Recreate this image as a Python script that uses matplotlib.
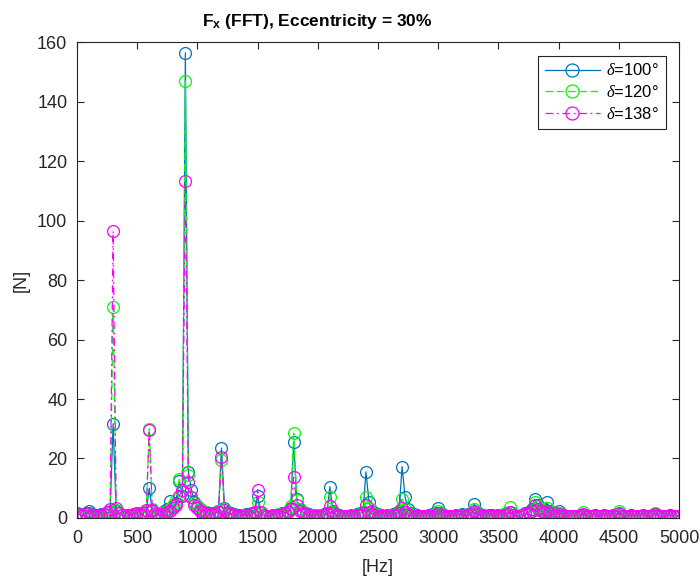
import numpy as np
import matplotlib
matplotlib.use("Agg")
import matplotlib.pyplot as plt

plt.rcParams['font.family'] = ['Liberation Sans', 'DejaVu Sans']
plt.rcParams['mathtext.fontset'] = 'custom'
plt.rcParams['mathtext.rm'] = 'Liberation Sans'
plt.rcParams['mathtext.bf'] = 'Liberation Sans:bold'
plt.rcParams['mathtext.it'] = 'Liberation Serif:italic'

# Frequency bins (Hz), 25 Hz resolution
freq_step = 25
n_bins = 201

# Single-sided FFT magnitude of Fx [N], delta = 100 deg
fx_100 = [
    1.8, 1.2, 1.0, 1.5, 2.5, 1.3, 0.9, 1.0, 1.2, 1.4, 1.6, 2.0, 31.7, 2.2, 1.5, 1.0, 0.8, 0.9, 1.1, 1.3,
    1.5, 1.2, 1.6, 2.2, 10.0, 2.4, 1.5, 1.3, 1.8, 2.2, 3.0, 5.8, 4.0, 5.0, 12.5, 7.5, 156.5, 15.5, 9.5, 5.5,
    4.0, 3.0, 2.5, 2.0, 1.7, 1.5, 1.8, 2.5, 23.5, 3.5, 2.0, 1.5, 1.2, 1.0, 0.9, 1.1, 1.3, 1.0, 1.5, 2.0,
    7.5, 1.5, 0.8, 0.6, 0.7, 0.9, 1.0, 1.2, 1.5, 1.8, 2.2, 3.5, 25.5, 6.5, 3.0, 2.0, 1.5, 1.2, 1.0, 0.9,
    1.0, 0.8, 1.2, 1.5, 10.5, 2.5, 1.2, 0.9, 0.8, 0.7, 0.8, 0.9, 1.0, 1.2, 1.5, 2.0, 15.5, 5.5, 2.5, 1.5,
    1.2, 1.0, 0.8, 0.9, 1.0, 1.2, 1.5, 2.5, 17.3, 7.0, 3.0, 1.8, 1.3, 1.0, 0.8, 0.7, 0.8, 1.0, 1.2, 1.5,
    3.3, 1.5, 1.0, 0.8, 0.7, 0.8, 0.9, 1.0, 1.2, 1.0, 1.3, 1.8, 4.8, 2.0, 1.2, 0.9, 0.8, 0.9, 1.0, 0.8,
    0.9, 1.0, 1.2, 1.5, 2.0, 1.0, 0.6, 0.8, 1.0, 1.5, 2.0, 3.0, 6.3, 4.5, 3.5, 3.0, 5.3, 2.5, 1.5, 1.8,
    2.5, 1.2, 0.8, 0.7, 0.8, 0.6, 0.7, 0.9, 1.0, 0.8, 0.7, 0.8, 0.9, 0.7, 0.8, 0.9, 0.8, 0.7, 0.9, 1.0,
    1.3, 0.9, 0.7, 0.8, 0.9, 0.8, 0.7, 0.8, 0.9, 0.8, 0.7, 0.9, 1.2, 0.9, 0.8, 0.7, 0.8, 0.9, 0.8, 0.7, 0.8,
]

# delta = 120 deg
fx_120 = [
    1.5, 1.0, 0.8, 1.2, 1.5, 1.0, 0.7, 0.8, 1.0, 1.3, 1.8, 2.5, 71.0, 2.8, 1.5, 0.9, 0.7, 0.8, 1.0, 1.2,
    1.4, 1.2, 1.5, 2.5, 30.0, 3.0, 1.6, 1.2, 1.5, 2.0, 2.5, 3.0, 4.5, 6.0, 13.0, 9.0, 147.0, 14.5, 7.0, 5.0,
    4.0, 3.0, 2.5, 2.0, 1.6, 1.4, 1.6, 2.2, 19.5, 3.0, 1.8, 1.4, 1.0, 0.8, 0.7, 0.9, 1.0, 0.8, 1.2, 1.8,
    5.2, 1.5, 0.7, 0.5, 0.6, 0.8, 1.0, 1.2, 1.4, 1.8, 2.5, 4.0, 28.5, 6.0, 3.0, 2.0, 1.4, 1.1, 0.9, 0.8,
    0.9, 0.7, 1.0, 1.4, 7.0, 2.0, 1.0, 0.8, 0.6, 0.5, 0.6, 0.8, 0.9, 1.0, 1.3, 2.0, 7.0, 3.5, 1.8, 1.2,
    1.0, 0.8, 0.6, 0.7, 0.9, 1.0, 1.3, 2.0, 6.3, 3.0, 1.8, 1.2, 1.0, 0.8, 0.6, 0.5, 0.6, 0.8, 1.0, 1.3,
    2.2, 1.2, 0.8, 0.6, 0.5, 0.6, 0.7, 0.9, 1.0, 0.8, 1.1, 1.5, 3.0, 1.5, 1.0, 0.7, 0.6, 0.7, 0.8, 0.7,
    0.8, 0.9, 1.2, 1.8, 3.8, 1.5, 0.7, 0.8, 1.0, 1.3, 1.8, 2.5, 5.5, 4.0, 3.0, 2.5, 3.5, 2.0, 1.2, 1.3,
    1.8, 1.0, 0.7, 0.6, 0.7, 0.5, 0.6, 0.8, 2.0, 0.9, 0.6, 0.7, 0.8, 0.6, 0.7, 0.8, 0.7, 0.6, 0.8, 1.0,
    2.5, 1.0, 0.6, 0.7, 0.8, 0.7, 0.6, 0.7, 0.8, 0.7, 0.6, 0.8, 1.8, 0.8, 0.7, 0.6, 0.7, 0.8, 0.7, 0.6, 0.7,
]

# delta = 138 deg
fx_138 = [
    1.6, 1.1, 0.9, 1.3, 1.8, 1.1, 0.8, 0.9, 1.1, 1.4, 2.0, 3.0, 96.5, 3.2, 1.6, 1.0, 0.8, 0.9, 1.1, 1.3,
    1.5, 1.3, 1.6, 2.6, 29.5, 2.8, 1.4, 1.0, 1.2, 1.5, 2.0, 2.5, 3.5, 4.5, 7.5, 9.5, 113.5, 12.0, 7.0, 4.5,
    3.5, 2.5, 2.0, 1.7, 1.5, 1.3, 1.5, 2.0, 20.5, 2.8, 1.6, 1.2, 0.9, 0.8, 0.7, 0.8, 0.9, 0.8, 1.2, 2.0,
    9.5, 2.0, 1.0, 0.7, 0.8, 0.9, 1.0, 1.1, 1.3, 1.6, 2.0, 3.0, 13.7, 4.5, 2.5, 1.6, 1.2, 1.0, 0.8, 0.7,
    0.8, 0.7, 0.9, 1.2, 4.0, 1.5, 0.9, 0.7, 0.6, 0.5, 0.6, 0.7, 0.8, 0.9, 1.1, 1.5, 4.5, 2.0, 1.3, 1.0,
    0.8, 0.7, 0.6, 0.7, 0.8, 0.9, 1.1, 1.5, 3.5, 2.0, 1.4, 1.0, 0.8, 0.7, 0.6, 0.5, 0.6, 0.7, 0.8, 1.0,
    1.8, 1.0, 0.7, 0.6, 0.5, 0.6, 0.7, 0.8, 0.9, 0.7, 0.9, 1.2, 2.2, 1.2, 0.8, 0.6, 0.5, 0.6, 0.7, 0.6,
    0.7, 0.8, 1.0, 1.3, 2.0, 1.1, 0.6, 0.7, 0.9, 1.2, 1.6, 2.2, 4.4, 3.0, 2.5, 2.0, 2.5, 1.5, 1.0, 1.0,
    1.3, 0.8, 0.6, 0.5, 0.6, 0.5, 0.6, 0.7, 1.2, 0.7, 0.5, 0.6, 0.7, 0.5, 0.6, 0.7, 0.6, 0.5, 0.7, 0.8,
    1.5, 0.8, 0.5, 0.6, 0.7, 0.6, 0.5, 0.6, 0.7, 0.6, 0.5, 0.7, 1.2, 0.7, 0.6, 0.5, 0.6, 0.7, 0.6, 0.5, 0.6,
]

labels = [r'$\delta$=100°', r'$\delta$=120°', r'$\delta$=138°']
x_ticks = list(range(0, 5001, 500))
y_ticks = list(range(0, 161, 20))

freqs = np.arange(n_bins) * freq_step

fig = plt.figure(figsize=(7.0, 5.8), dpi=100)
ax = fig.add_axes([0.110, 0.107, 0.860, 0.820])

axis_color = '#262626'
ax.plot(freqs, fx_100, '-o', color='#0072BD', lw=0.9, ms=8.5,
        mfc='none', mew=0.9, label=labels[0])
ax.plot(freqs, fx_120, '--o', color='#00FF00', lw=0.9, ms=8.5,
        mfc='none', mew=0.9, label=labels[1], dashes=(6, 3))
ax.plot(freqs, fx_138, '-.o', color='#FF00FF', lw=0.9, ms=8.5,
        mfc='none', mew=0.9, label=labels[2], dashes=(6, 3, 1.5, 3))

ax.set_xlim(0, 5000)
ax.set_ylim(0, 160)
ax.set_xticks(x_ticks)
ax.set_yticks(y_ticks)

for s in ax.spines.values():
    s.set_color(axis_color)
    s.set_linewidth(0.8)
ax.tick_params(direction='in', length=5, width=0.8, colors=axis_color,
               labelsize=13, top=True, right=True)
ax.tick_params(axis='x', pad=9)
ax.tick_params(axis='y', pad=7)

fig.text(0.453, 0.963, r'$\mathbf{F_x}$ (FFT), Eccentricity = 30%', fontsize=12.5,
         fontweight='bold', color='black', ha='center', va='center')
ax.set_xlabel('[Hz]', fontsize=13, color=axis_color, labelpad=8.5)
ax.set_ylabel('[N]', fontsize=13, color=axis_color, labelpad=5)

leg = ax.legend(loc='upper right', fontsize=12, frameon=True, fancybox=False,
                edgecolor=axis_color, framealpha=1, handlelength=3.3,
                borderpad=0.4, labelspacing=0.35, handletextpad=0.4,
                borderaxespad=0.8, markerscale=1.1)
leg.get_frame().set_linewidth(0.8)

fig.savefig('out.png', dpi=100, facecolor='white')
